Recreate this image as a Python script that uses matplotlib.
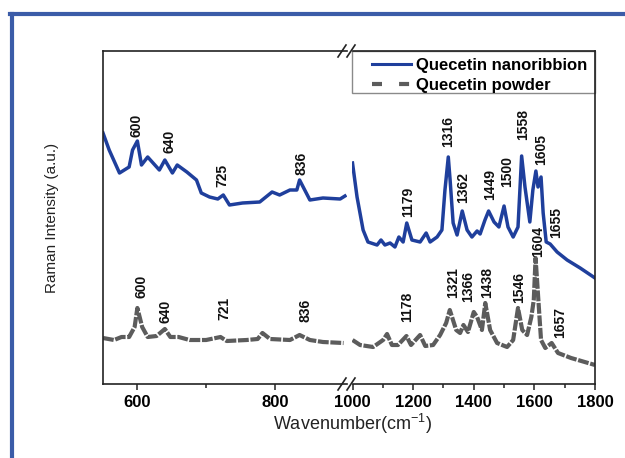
import matplotlib
matplotlib.use("Agg")
import matplotlib.pyplot as plt
from matplotlib.lines import Line2D
from matplotlib.patches import Rectangle
from matplotlib.ticker import FixedLocator

plt.rcParams["font.family"] = ["Liberation Sans", "DejaVu Sans"]
plt.rcParams["mathtext.default"] = "regular"

# ---- data (intensity in arbitrary units) ----
# Quecetin nanoribbion, low-wavenumber segment
nano_lo_x = [550, 559, 574, 588, 593, 600, 606, 615, 632, 640, 651, 658, 672, 686,
             693, 705, 717, 725, 734, 753, 778, 796, 807, 822, 832, 836, 851, 870,
             895, 902]
nano_lo_y = [251, 234, 211, 217, 234, 243, 219, 227, 214, 224, 211, 219, 212, 204,
             191, 187, 185, 189, 179, 181, 182, 192, 189, 194, 194, 204, 184, 186,
             185, 188]
# Quecetin nanoribbion, high-wavenumber segment
nano_hi_x = [1000, 1015, 1035, 1051, 1081, 1094, 1107, 1124, 1140, 1153, 1167, 1179,
             1196, 1223, 1243, 1256, 1279, 1295, 1305, 1316, 1322, 1332, 1345, 1362,
             1378, 1394, 1411, 1421, 1437, 1449, 1467, 1483, 1500, 1513, 1530, 1546,
             1558, 1569, 1585, 1595, 1605, 1612, 1622, 1629, 1639, 1652, 1675, 1708,
             1751, 1800]
nano_hi_y = [221, 187, 154, 142, 139, 144, 139, 141, 137, 147, 142, 161,
             144, 142, 151, 142, 147, 154, 194, 227, 204, 161, 149, 173,
             154, 147, 153, 150, 164, 173, 162, 157, 178, 157, 147, 157,
             228, 197, 162, 194, 213, 197, 207, 171, 142, 140, 132, 124,
             116, 106]
# Quecetin powder, low-wavenumber segment
powder_lo_x = [550, 566, 577, 588, 596, 600, 607, 615, 628, 640, 648, 660, 676, 700,
               721, 730, 759, 775, 782, 793, 822, 836, 851, 870, 900]
powder_lo_y = [46, 44, 47, 47, 57, 76, 57, 47, 48, 55, 47, 47, 44, 44,
               47, 43, 44, 45, 51, 45, 44, 49, 44, 42, 41]
# Quecetin powder, high-wavenumber segment
powder_hi_x = [1000, 1025, 1068, 1101, 1114, 1130, 1150, 1178, 1193, 1223, 1240, 1266,
               1289, 1309, 1321, 1342, 1355, 1366, 1381, 1400, 1411, 1427, 1438, 1454,
               1477, 1510, 1530, 1546, 1560, 1576, 1590, 1598, 1604, 1616, 1622, 1636,
               1657, 1678, 1721, 1800]
powder_hi_y = [44, 39, 37, 44, 50, 39, 39, 48, 39, 49, 38, 39,
               49, 61, 74, 54, 51, 59, 52, 72, 67, 54, 81, 54,
               41, 37, 44, 76, 54, 49, 67, 84, 126, 71, 44, 36,
               41, 31, 26, 19]

# peak annotations: text, x, y (bottom of label)
nano_lo_labels = ["600", "640", "725", "836"]
nano_lo_lx = [599, 647, 724, 839]
nano_lo_ly = [247, 231, 197, 209]
nano_hi_labels = ["1179", "1316", "1362", "1449", "1500", "1558", "1605", "1655"]
nano_hi_lx = [1183, 1315, 1365, 1454, 1510, 1563, 1622, 1672]
nano_hi_ly = [167, 237, 181, 184, 197, 244, 219, 146]
powder_lo_labels = ["600", "640", "721", "836"]
powder_lo_lx = [606, 641, 727, 844]
powder_lo_ly = [86, 61, 64, 62]
powder_hi_labels = ["1178", "1321", "1366", "1438", "1546", "1604", "1657"]
powder_hi_lx = [1180, 1332, 1381, 1444, 1549, 1612, 1685]
powder_hi_ly = [62, 86, 82, 86, 81, 127, 46]

series_names = ["Quecetin nanoribbion", "Quecetin powder"]

BLUE = "#1f3f9c"
GREY = "#5c5c5c"
SPINE = "#222222"

W, H = 625, 458
fig = plt.figure(figsize=(W / 100, H / 100), dpi=100)

ax1 = fig.add_axes([103 / W, 1 - 384 / H, 244 / W, 333 / H])
ax2 = fig.add_axes([352.5 / W, 1 - 384 / H, 242.5 / W, 333 / H])

ax1.plot(nano_lo_x, nano_lo_y, color=BLUE, lw=2.5, solid_joinstyle="round")
ax1.plot(powder_lo_x, powder_lo_y, color=GREY, lw=3.0, dashes=(2.6, 0.4))
ax2.plot(nano_hi_x, nano_hi_y, color=BLUE, lw=2.5, solid_joinstyle="round")
ax2.plot(powder_hi_x, powder_hi_y, color=GREY, lw=3.0, dashes=(2.6, 0.4))

ax1.set_xlim(550, 905)
ax2.set_xlim(1000, 1800)
ax1.set_xticks([600, 800])
ax1.xaxis.set_minor_locator(FixedLocator([700]))
ax2.set_xticks([1000, 1200, 1400, 1600, 1800])
ax2.xaxis.set_minor_locator(FixedLocator([1100, 1300, 1500, 1700]))
for ax in (ax1, ax2):
    ax.set_ylim(0, 333)
    ax.set_yticks([])
    for s in ax.spines.values():
        s.set_color(SPINE)
        s.set_linewidth(1.2)
    ax.tick_params(axis="x", which="major", length=4, width=1.1, color=SPINE,
                   labelsize=12, pad=4)
    ax.tick_params(axis="x", which="minor", length=3, width=1.1, color=SPINE)
    for lab in ax.get_xticklabels():
        lab.set_fontweight("bold")
ax1.spines["right"].set_visible(False)
ax2.spines["left"].set_visible(False)


def put_labels(ax, labels, xs, ys):
    for t, x, y in zip(labels, xs, ys):
        ax.text(x, y, t, rotation=90, ha="center", va="bottom",
                fontsize=10, fontweight="bold", color="#111111")


put_labels(ax1, nano_lo_labels, nano_lo_lx, nano_lo_ly)
put_labels(ax2, nano_hi_labels, nano_hi_lx, nano_hi_ly)
put_labels(ax1, powder_lo_labels, powder_lo_lx, powder_lo_ly)
put_labels(ax2, powder_hi_labels, powder_hi_lx, powder_hi_ly)

# legend: frame drawn separately so it spans the whole right panel
ax2.add_patch(Rectangle((0, 1 - 42 / 333), 1, 42 / 333, transform=ax2.transAxes,
                        facecolor="white", edgecolor="#8a8a8a", lw=1.0,
                        zorder=4, clip_on=False))
handles = [Line2D([], [], color=BLUE, lw=2.2),
           Line2D([], [], color=GREY, lw=3, dashes=(2.4, 4.1))]
leg = ax2.legend(handles, series_names, loc="upper right",
                 bbox_to_anchor=(1 - 8 / 242.5, 1 - 7 / 333), borderaxespad=0,
                 frameon=False, prop={"weight": "bold", "size": 12},
                 handlelength=2.3, handletextpad=0.3, borderpad=0,
                 labelspacing=0.32)
leg.set_zorder(5)
ax2.spines["right"].set_zorder(6)
ax2.spines["top"].set_zorder(6)

# axis break marks
for yb in (1 - 384 / H, 1 - 51 / H):
    for xb in (342 / W, 351 / W):
        fig.add_artist(Line2D([xb - 4 / W, xb + 4 / W], [yb - 6 / H, yb + 6 / H],
                              color=SPINE, lw=1.2))

fig.text(352 / W, 1 - 424 / H, "Wavenumber(cm$^{-1}$)", ha="center", va="center",
         fontsize=13, color="#222222")
fig.text(52 / W, 1 - 218 / H, "Raman Intensity (a.u.)", rotation=90,
         ha="center", va="center", fontsize=11, color="#222222")

# blue page frame
FRAME = "#3b5ca8"
fig.add_artist(Line2D([10 / W, 1], [1 - 14 / H, 1 - 14 / H], color=FRAME, lw=3))
fig.add_artist(Line2D([12 / W, 12 / W], [0, 1 - 14 / H], color=FRAME, lw=3))

fig.savefig("out.png", dpi=100)
